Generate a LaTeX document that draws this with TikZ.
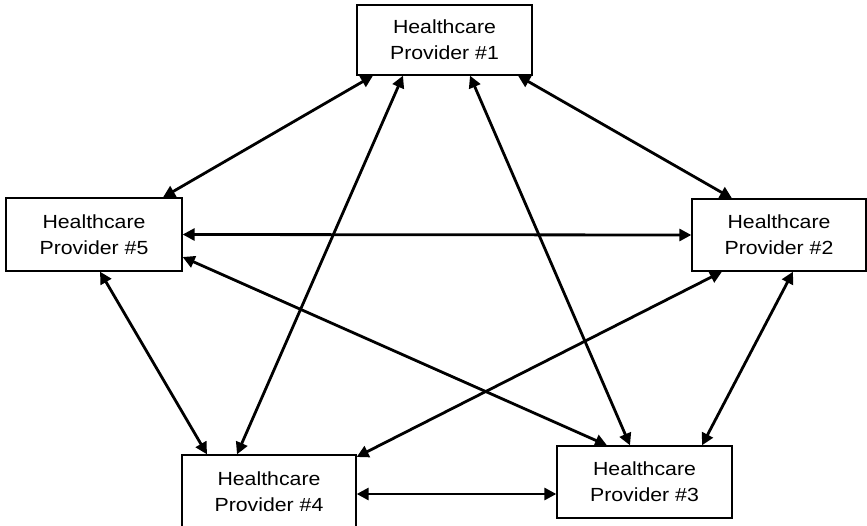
\documentclass[tikz,border=0pt]{standalone}
\usepackage{fontspec}
\setmainfont{Liberation Sans}[FakeStretch=1.12]
\usetikzlibrary{arrows.meta}
\begin{document}
\begin{tikzpicture}[x=1pt,y=-1pt,
  provider/.style={draw=black,line width=1.3pt,fill=white,align=center,
    inner sep=0pt,font=\fontsize{19}{26}\selectfont},
  link/.style={line width=2.8pt,{Triangle[length=12pt,width=12pt]}-{Triangle[length=12pt,width=12pt]}}]
\useasboundingbox (0,0) rectangle (867,525);
% the five providers
\node[provider,minimum width=175pt,minimum height=70pt] (p1) at (444.5,40) {Healthcare\\Provider \#1};
\node[provider,minimum width=174pt,minimum height=72pt] (p2) at (779,235) {Healthcare\\Provider \#2};
\node[provider,minimum width=175pt,minimum height=72pt] (p3) at (644.5,482) {Healthcare\\Provider \#3};
\node[provider,minimum width=174pt,minimum height=74pt] (p4) at (269,492) {Healthcare\\Provider \#4};
\node[provider,minimum width=176pt,minimum height=73pt] (p5) at (94,234.5) {Healthcare\\Provider \#5};
% every pair is linked in both directions
\draw[link] ([xshift=-71.5pt]p1.south) -- ([xshift=69pt]p5.north);
\draw[link] ([xshift=-41.5pt]p1.south) -- ([xshift=-32pt]p4.north);
\draw[link] ([xshift=25.5pt]p1.south) -- ([xshift=-14.5pt]p3.north);
\draw[link] ([xshift=73.5pt]p1.south) -- ([xshift=-47pt]p2.north);
\draw[link] (p5.east) -- (p2.west);
\draw[link] ([yshift=-22.5pt]p5.east) -- ([xshift=-37.5pt]p3.north);
\draw[link] ([xshift=6pt]p5.south) -- ([xshift=-62pt]p4.north);
\draw[link] ([xshift=-57pt]p2.south) -- ([yshift=35pt]p4.east);
\draw[link] ([xshift=14pt]p2.south) -- ([xshift=57.5pt]p3.north);
\draw[link] ([yshift=-2pt]p4.east) -- ([yshift=-12pt]p3.west);
\end{tikzpicture}
\end{document}
